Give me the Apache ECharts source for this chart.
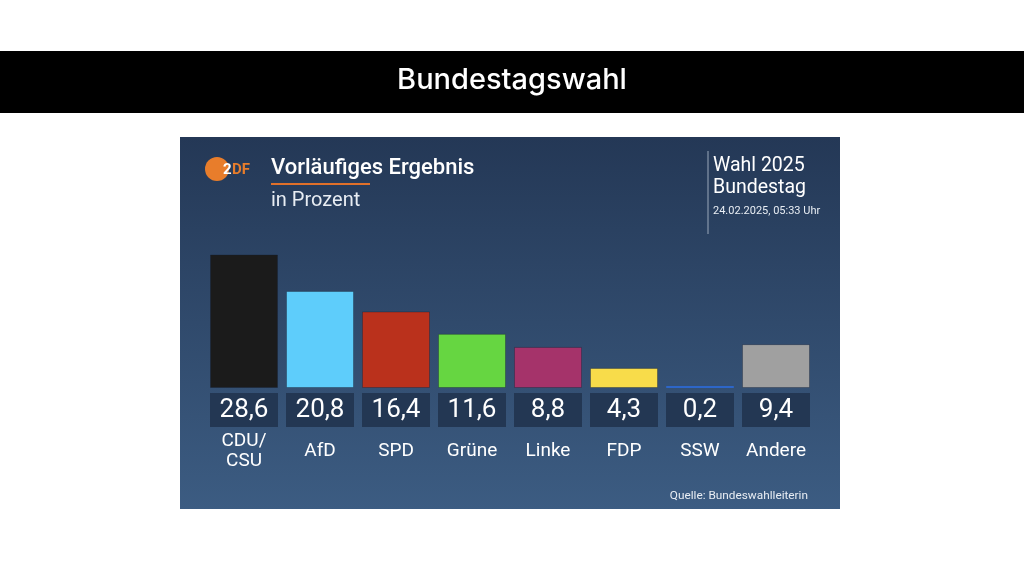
<!DOCTYPE html>
<html>
<head>
<meta charset="utf-8">
<script src="https://cdn.jsdelivr.net/npm/echarts@6/dist/echarts.min.js"></script>
<style>
  html, body { margin: 0; padding: 0; background: #fff; }
  #chart { width: 1024px; height: 572px; }
</style>
</head>
<body>
<div id="chart"></div>
<script>
// Bundestagswahl 2025, vorläufiges Ergebnis (ZDF)
const parties = ['CDU/\nCSU', 'AfD', 'SPD', 'Grüne', 'Linke', 'FDP', 'SSW', 'Andere'];
const shares = [28.6, 20.8, 16.4, 11.6, 8.8, 4.3, 0.2, 9.4];
const partyColors = ['#1b1b1b', '#5ecdfb', '#ba311c', '#66d641', '#a5336a', '#f8dc4a', '#2d66c8', '#a0a0a0'];

const font = 'Roboto';
const chart = echarts.init(document.getElementById('chart'));

function fmt(v) {
  return String(v.toFixed(1)).replace('.', ',');
}

// text helper: x = left edge, y = vertical centre
function txt(x, y, text, size, color, weight) {
  return {
    type: 'text', x: x, y: y,
    style: {
      text: text, fill: color,
      font: (weight || 'normal') + ' ' + size + 'px ' + font,
      verticalAlign: 'middle'
    }
  };
}

chart.setOption({
  animation: false,
  backgroundColor: '#ffffff',
  graphic: [
    // black title band
    {type: 'rect', shape: {x: 0, y: 51, width: 1024, height: 62}, style: {fill: '#000'}, z: -10},
    {type: 'text', x: 512, y: 80, style: {text: 'Bundestagswahl', fill: '#fff', font: '500 29px Inter', align: 'center', verticalAlign: 'middle'}},
    // panel
    {
      type: 'rect', shape: {x: 180, y: 137, width: 660, height: 372}, z: -10,
      style: {
        fill: new echarts.graphic.LinearGradient(0, 0, 0, 1, [
          {offset: 0, color: '#243856'},
          {offset: 1, color: '#3c5c82'}
        ])
      }
    },
    // ZDF logo
    {type: 'circle', shape: {cx: 217, cy: 169, r: 12}, style: {fill: '#e87d2b'}},
    txt(223, 170, '2', 15, '#fff', 'bold'),
    txt(232, 170, 'DF', 15, '#e87d2b', 'bold'),
    // heading
    txt(271, 168, 'Vorläufiges Ergebnis', 22, '#fff', '500'),
    {type: 'rect', shape: {x: 271, y: 183, width: 99, height: 2}, style: {fill: '#e0702a'}},
    txt(271, 201, 'in Prozent', 20, '#e8edf3'),
    // right info box
    {type: 'line', shape: {x1: 708, y1: 151, x2: 708, y2: 234}, style: {stroke: '#9aa8ba', lineWidth: 1}},
    txt(713, 166, 'Wahl 2025', 19.5, '#fff'),
    txt(713, 188, 'Bundestag', 19.5, '#fff'),
    txt(713, 211, '24.02.2025, 05:33 Uhr', 11, '#e8edf3'),
    // source
    {type: 'text', x: 808, y: 496, style: {text: 'Quelle: Bundeswahlleiterin', fill: '#e8edf3', font: '11.8px ' + font, align: 'right', verticalAlign: 'middle'}}
  ],
  grid: {left: 206, width: 608, top: 248, height: 140},
  xAxis: {
    type: 'category',
    data: parties,
    axisLine: {show: false},
    axisTick: {show: false},
    axisLabel: {
      interval: 0,
      margin: 5,
      formatter: function (name, i) {
        let out = '{box|' + fmt(shares[i]) + '}\n';
        if (name.indexOf('\n') >= 0) {
          const p = name.split('\n');
          out += '{sp| }\n{nm2|' + p[0] + '}\n{nm2|' + p[1] + '}';
        } else {
          out += '{nm|' + name + '}';
        }
        return out;
      },
      rich: {
        box: {
          backgroundColor: '#233753', width: 68, height: 34, lineHeight: 34,
          align: 'center', color: '#fff', fontSize: 26, fontFamily: font
        },
        nm: {lineHeight: 48, height: 48, color: '#fff', fontSize: 19, fontFamily: font, align: 'center'},
        nm2: {lineHeight: 20, height: 20, color: '#fff', fontSize: 19, fontFamily: font, align: 'center'},
        sp: {lineHeight: 4, height: 4, fontSize: 4}
      }
    }
  },
  yAxis: {type: 'value', min: 0, max: 30, show: false, splitLine: {show: false}},
  series: [{
    type: 'bar',
    barWidth: 68,
    barMinHeight: 2,
    data: shares.map((v, i) => ({
      value: v,
      itemStyle: {
        color: partyColors[i],
        borderColor: v < 1 ? partyColors[i] : 'rgba(20,30,45,0.35)'
      }
    })),
    itemStyle: {borderWidth: 1}
  }]
});
</script>
</body>
</html>
